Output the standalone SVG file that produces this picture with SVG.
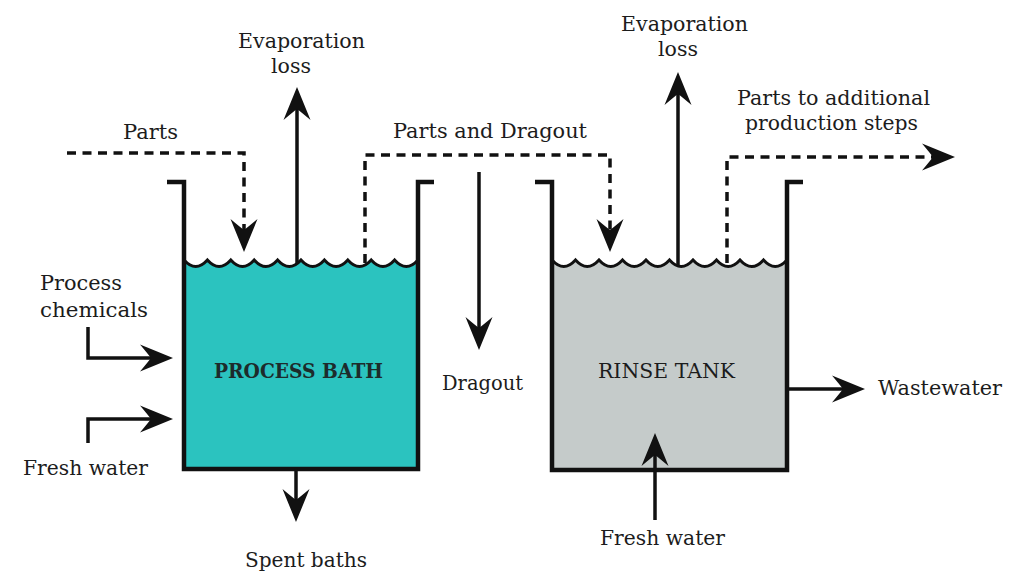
<svg xmlns="http://www.w3.org/2000/svg" width="1024" height="576" viewBox="0 0 1024 576">
<style>
text{font-family:"DejaVu Serif","Liberation Serif",serif;font-size:21px;fill:#1c1c1c}
.wall{fill:none;stroke:#111;stroke-width:4.5;stroke-linejoin:miter}
.wave{fill:none;stroke:#111;stroke-width:3}
.ln{fill:none;stroke:#111;stroke-width:3.5;marker-end:url(#ah)}
.dash{fill:none;stroke:#111;stroke-width:3.5;stroke-dasharray:9 6.5;marker-end:url(#ah)}
</style>
<defs>
<marker id="ah" markerUnits="userSpaceOnUse" markerWidth="40" markerHeight="40" refX="0" refY="0" orient="auto" overflow="visible">
<path d="M22,0 L-11,-13.5 Q-3,-4 0,0 Q-3,4 -11,13.5 Z" fill="#111"/>
</marker>
</defs>
<rect width="1024" height="576" fill="#fff"/>

<g id="process-bath">
<path d="M184,260 q11.7,13 23.4,0 q11.7,13 23.4,0 q11.7,13 23.4,0 q11.7,13 23.4,0 q11.7,13 23.4,0 q11.7,13 23.4,0 q11.7,13 23.4,0 q11.7,13 23.4,0 q11.7,13 23.4,0 q11.7,13 23.4,0 L418,469 L184,469 Z" fill="#2BC3BF"/>
<path class="wave" d="M184,260 q11.7,13 23.4,0 q11.7,13 23.4,0 q11.7,13 23.4,0 q11.7,13 23.4,0 q11.7,13 23.4,0 q11.7,13 23.4,0 q11.7,13 23.4,0 q11.7,13 23.4,0 q11.7,13 23.4,0 q11.7,13 23.4,0"/>
<path class="wall" d="M167,182 H184 V469 H418 V182 H434"/>
<text x="214" y="378" textLength="169" lengthAdjust="spacingAndGlyphs" style="font-weight:bold;fill:#1d2b2b">PROCESS BATH</text>
</g>

<g id="rinse-tank">
<path d="M552,260 q11.75,13 23.5,0 q11.75,13 23.5,0 q11.75,13 23.5,0 q11.75,13 23.5,0 q11.75,13 23.5,0 q11.75,13 23.5,0 q11.75,13 23.5,0 q11.75,13 23.5,0 q11.75,13 23.5,0 q11.75,13 23.5,0 L787,470 L552,470 Z" fill="#C5CBCA"/>
<path class="wave" d="M552,260 q11.75,13 23.5,0 q11.75,13 23.5,0 q11.75,13 23.5,0 q11.75,13 23.5,0 q11.75,13 23.5,0 q11.75,13 23.5,0 q11.75,13 23.5,0 q11.75,13 23.5,0 q11.75,13 23.5,0 q11.75,13 23.5,0"/>
<path class="wall" d="M535,182 H552 V470 H787 V182 H803"/>
<text x="598" y="378" textLength="137" lengthAdjust="spacingAndGlyphs">RINSE TANK</text>
</g>

<g id="connectors">
<path class="ln" d="M297,264 V109"/>
<path class="ln" d="M678,265 V94"/>
<path class="dash" d="M67,153 H244 V230"/>
<path class="dash" d="M365,263 V155 H610 V230"/>
<path class="dash" d="M727,263 V157 H933"/>
<path class="ln" d="M479,172 V328"/>
<path class="ln" d="M88,327 V358 H151"/>
<path class="ln" d="M88,443 V419 H151"/>
<path class="ln" d="M296,469 V500"/>
<path class="ln" d="M655,520 V455"/>
<path class="ln" d="M787,389 H843"/>
</g>

<g id="labels">
<text x="238" y="48" textLength="127" lengthAdjust="spacingAndGlyphs">Evaporation</text>
<text x="271" y="73" textLength="40" lengthAdjust="spacingAndGlyphs">loss</text>
<text x="621" y="31" textLength="127" lengthAdjust="spacingAndGlyphs">Evaporation</text>
<text x="658" y="56" textLength="40" lengthAdjust="spacingAndGlyphs">loss</text>
<text x="123" y="139" textLength="55" lengthAdjust="spacingAndGlyphs">Parts</text>
<text x="393" y="138" textLength="194" lengthAdjust="spacingAndGlyphs">Parts and Dragout</text>
<text x="737" y="105" textLength="193" lengthAdjust="spacingAndGlyphs">Parts to additional</text>
<text x="745" y="130" textLength="173" lengthAdjust="spacingAndGlyphs">production steps</text>
<text x="40" y="290" textLength="82" lengthAdjust="spacingAndGlyphs">Process</text>
<text x="40" y="317" textLength="108" lengthAdjust="spacingAndGlyphs">chemicals</text>
<text x="23" y="475" textLength="125" lengthAdjust="spacingAndGlyphs">Fresh water</text>
<text x="442" y="390" textLength="81" lengthAdjust="spacingAndGlyphs">Dragout</text>
<text x="878" y="395" textLength="124" lengthAdjust="spacingAndGlyphs">Wastewater</text>
<text x="600" y="545" textLength="125" lengthAdjust="spacingAndGlyphs">Fresh water</text>
<text x="245" y="567" textLength="122" lengthAdjust="spacingAndGlyphs">Spent baths</text>
</g>
</svg>
